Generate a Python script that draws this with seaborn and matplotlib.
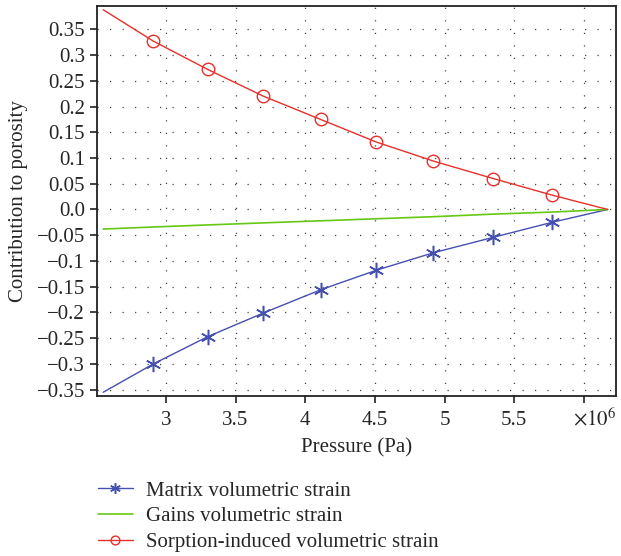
import pandas as pd
import matplotlib.pyplot as plt
import matplotlib.ticker as mticker
import seaborn as sns

# Valores (presion en 10^6 Pa)
presion = [2.55, 2.91, 3.30, 3.70, 4.11, 4.51, 4.92, 5.35, 5.77, 6.17]
matriz = [-0.355, -0.300, -0.247, -0.201, -0.156, -0.118, -0.084, -0.054, -0.025, 0.0]
ganancias = [-0.038, -0.034, -0.030, -0.026, -0.022, -0.018, -0.014, -0.009, -0.005, 0.0]
sorcion = [0.388, 0.327, 0.272, 0.220, 0.175, 0.131, 0.094, 0.060, 0.028, 0.0]

etiquetas_y = ["0.35", "0.3", "0.25", "0.2", "0.15", "0.1", "0.05", "0.0",
               "\u22120.05", "\u22120.1", "\u22120.15", "\u22120.2", "\u22120.25", "\u22120.3", "\u22120.35"]
valores_y = [0.35, 0.3, 0.25, 0.2, 0.15, 0.1, 0.05, 0.0,
             -0.05, -0.1, -0.15, -0.2, -0.25, -0.3, -0.35]
valores_x = [3.0, 3.5, 4.0, 4.5, 5.0, 5.5, 6.0]
etiquetas_x = ["3", "3.5", "4", "4.5", "5", "5.5", ""]

df = pd.DataFrame({"p": [v * 1e6 for v in presion],
                   "matriz": matriz, "ganancias": ganancias, "sorcion": sorcion})

sns.set_style("white")
plt.rcParams["font.family"] = ["Liberation Serif", "DejaVu Serif"]
plt.rcParams["mathtext.fontset"] = "stix"

fig = plt.figure(figsize=(6.21, 5.56), dpi=100)
ax = fig.add_axes([0.156, 0.288, 0.836, 0.701])

marcas = list(range(1, 9))
sns.lineplot(data=df, x="p", y="matriz", ax=ax, color="#4650b0", lw=1.0,
             marker=(6, 2, 0), markersize=11, markeredgecolor="#4650b0",
             markeredgewidth=1.1, markevery=marcas,
             label="Matrix volumetric strain")
sns.lineplot(data=df, x="p", y="ganancias", ax=ax, color="#66c814", lw=1.2,
             label="Gains volumetric strain")
sns.lineplot(data=df, x="p", y="sorcion", ax=ax, color="#e8302a", lw=1.0,
             marker="o", markersize=9, markerfacecolor="none", markeredgecolor="#e8302a",
             markeredgewidth=1.0, markevery=marcas,
             label="Sorption-induced volumetric strain")

ax.set_xlim(2.505e6, 6.23e6)
ax.set_ylim(-0.362, 0.395)
ax.xaxis.set_major_locator(mticker.FixedLocator([v * 1e6 for v in valores_x]))
ax.xaxis.set_major_formatter(mticker.FixedFormatter(etiquetas_x))
ax.yaxis.set_major_locator(mticker.FixedLocator(valores_y))
ax.yaxis.set_major_formatter(mticker.FixedFormatter(etiquetas_y))
ax.tick_params(axis="both", direction="out", length=5, width=1.2, labelsize=15,
               color="#222222", bottom=True, left=True)
ax.tick_params(axis="x", pad=6)
ax.grid(True, color="#444444", linestyle=(0, (1, 9)), lw=0.9)
for s in ax.spines.values():
    s.set_color("#222222")
    s.set_linewidth(1.3)

ax.set_xlabel("Pressure (Pa)", fontsize=15, labelpad=6)
ax.set_ylabel("Contribution to porosity", fontsize=15, labelpad=6)
ax.text(1.0, -0.03, r"$\times10^{6}$", transform=ax.transAxes, ha="right", va="top", fontsize=15)

ax.get_legend().remove()
h, l = ax.get_legend_handles_labels()
fig.legend(h, l, loc="upper left", bbox_to_anchor=(0.144, 0.15), frameon=False,
           fontsize=15, handlelength=1.7, handletextpad=0.6, labelspacing=0.3,
           borderaxespad=0, markerscale=0.7)

plt.savefig("out.png", dpi=100)
